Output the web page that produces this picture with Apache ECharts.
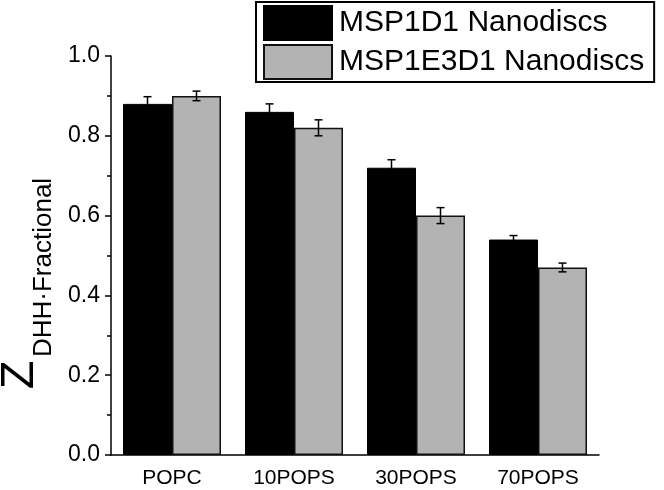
<!DOCTYPE html>
<html><head><meta charset="utf-8">
<script src="https://cdn.jsdelivr.net/npm/echarts@6/dist/echarts.min.js"></script>
<style>html,body{margin:0;padding:0;background:#fff}#c{width:664px;height:490px}</style>
</head><body><div id="c"></div>
<script>
const categories = ['POPC', '10POPS', '30POPS', '70POPS'];
const msp1d1 = [0.88, 0.86, 0.72, 0.54];
const msp1d1Err = [0.018, 0.02, 0.02, 0.01];
const msp1e3d1 = [0.90, 0.82, 0.60, 0.47];
const msp1e3d1Err = [0.012, 0.02, 0.02, 0.011];
const seriesNames = ['MSP1D1 Nanodiscs', 'MSP1E3D1 Nanodiscs'];
const yTicks = [0, 0.2, 0.4, 0.6, 0.8, 1.0];

const FONT = 'Liberation Sans, Arial, Helvetica, sans-serif';
const BAR_W = 49;

function errSeries(vals, errs, offset) {
  return {
    type: 'custom',
    xAxisIndex: 0,
    z: 10,
    silent: true,
    data: categories.map((c, i) => [i, vals[i], errs[i]]),
    renderItem: function (params, api) {
      const i = api.value(0), v = api.value(1), e = api.value(2);
      const x = api.coord([i, v])[0] + offset;
      const yHi = api.coord([i, v + e])[1];
      const yLo = api.coord([i, v - e])[1];
      const cap = 4;
      const st = { stroke: '#000', lineWidth: 1.5 };
      return {
        type: 'group',
        children: [
          { type: 'line', shape: { x1: x, y1: yHi, x2: x, y2: yLo }, style: st },
          { type: 'line', shape: { x1: x - cap, y1: yHi, x2: x + cap, y2: yHi }, style: st },
          { type: 'line', shape: { x1: x - cap, y1: yLo, x2: x + cap, y2: yLo }, style: st }
        ]
      };
    }
  };
}

const chart = echarts.init(document.getElementById('c'));
chart.setOption({
  animation: false,
  textStyle: { fontFamily: FONT },
  grid: { left: 111, right: 65, top: 56, bottom: 35, containLabel: false },
  legend: {
    data: seriesNames,
    orient: 'vertical',
    left: 256, top: 2,
    padding: [3, 10, 2, 7],
    itemGap: 3,
    itemWidth: 68, itemHeight: 34,
    icon: 'rect',
    borderColor: '#000', borderWidth: 2,
    textStyle: { fontSize: 30, color: '#000', fontFamily: FONT, padding: [0, 0, 0, 2] }
  },
  xAxis: [{
    type: 'category',
    data: categories,
    boundaryGap: true,
    axisLine: { lineStyle: { color: '#000', width: 1.5 } },
    axisTick: { alignWithLabel: true, length: 7, lineStyle: { color: '#000', width: 1.5 } },
    axisLabel: { color: '#000', fontSize: 21, margin: 13, fontFamily: FONT }
  }, {
    type: 'category',
    data: categories,
    position: 'bottom',
    boundaryGap: true,
    axisLine: { show: false },
    axisTick: { length: 4, lineStyle: { color: '#000', width: 1.5 } },
    axisLabel: { show: false }
  }],
  yAxis: {
    type: 'value',
    min: yTicks[0], max: yTicks[yTicks.length - 1], interval: 0.2,
    splitLine: { show: false },
    axisLine: { show: true, lineStyle: { color: '#000', width: 1.5 } },
    axisTick: { show: true, length: 6, lineStyle: { color: '#000', width: 1.5 } },
    minorTick: { show: true, splitNumber: 2, length: 4, lineStyle: { color: '#000', width: 1.5 } },
    axisLabel: { color: '#000', fontSize: 23, margin: 11, fontFamily: FONT, formatter: v => v.toFixed(1) }
  },
  graphic: [
    { type: 'text', x: 20, y: 375, rotation: Math.PI / 2,
      style: { text: 'Z', font: '47px ' + FONT, fill: '#000', textAlign: 'center', textVerticalAlign: 'middle' } },
    { type: 'text', x: 44, y: 357, rotation: Math.PI / 2,
      style: { text: 'DHH·Fractional', font: '26px ' + FONT, fill: '#000', textAlign: 'left', textVerticalAlign: 'middle' } }
  ],
  series: [
    { name: seriesNames[0], type: 'bar', data: msp1d1, barWidth: BAR_W, barGap: '0%',
      itemStyle: { color: '#000', borderColor: '#000', borderWidth: 1 } },
    { name: seriesNames[1], type: 'bar', data: msp1e3d1, barWidth: BAR_W, barGap: '0%',
      itemStyle: { color: '#b3b3b3', borderColor: '#111', borderWidth: 1.5 } },
    errSeries(msp1d1, msp1d1Err, -BAR_W / 2),
    errSeries(msp1e3d1, msp1e3d1Err, BAR_W / 2)
  ]
});
</script></body></html>
